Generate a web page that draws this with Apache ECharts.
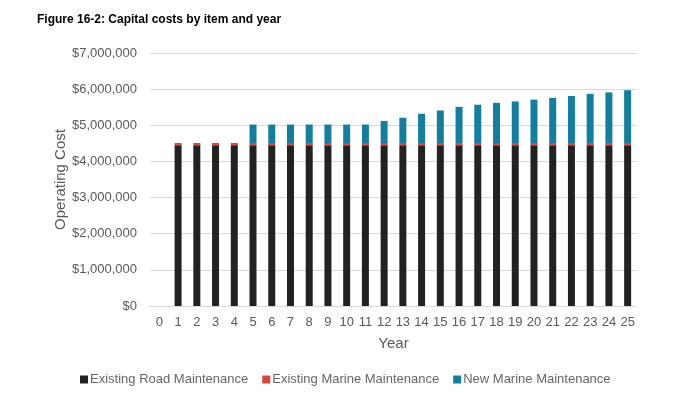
<!DOCTYPE html>
<html>
<head>
<meta charset="utf-8">
<script src="https://cdn.jsdelivr.net/npm/echarts@6/dist/echarts.min.js"></script>
<style>
html,body{margin:0;padding:0;background:#fff;}
#chart{width:700px;height:393px;}
</style>
</head>
<body>
<div id="chart"></div>
<script>
var years = ['0','1','2','3','4','5','6','7','8','9','10','11','12','13','14','15','16','17','18','19','20','21','22','23','24','25'];
var seriesNames = ['Existing Road Maintenance','Existing Marine Maintenance','New Marine Maintenance'];
var existingRoad = [null,4450000,4450000,4450000,4450000,4450000,4450000,4450000,4450000,4450000,4450000,4450000,4450000,4450000,4450000,4450000,4450000,4450000,4450000,4450000,4450000,4450000,4450000,4450000,4450000,4450000];
var existingMarine = [null,60000,60000,60000,60000,60000,60000,60000,60000,60000,60000,60000,60000,60000,60000,60000,60000,60000,60000,60000,60000,60000,60000,60000,60000,60000];
var newMarine = [null,0,0,0,0,510000,510000,510000,510000,510000,510000,510000,610000,700000,810000,900000,1000000,1060000,1110000,1150000,1200000,1250000,1300000,1360000,1400000,1460000];
var colors = ['#222222','#d9443f','#127fa0'];

var chart = echarts.init(document.getElementById('chart'));
var textColor = '#595959';
var font = '"Liberation Sans", Arial, sans-serif';
chart.setOption({
  animation: false,
  title: {
    text: 'Figure 16-2: Capital costs by item and year',
    left: 32, top: 9,
    textStyle: {fontFamily: font, fontSize: 12, fontWeight: 'bold', color: '#000'}
  },
  legend: {
    bottom: 2, left: 75,
    itemWidth: 8, itemHeight: 8, itemGap: 14,
    icon: 'rect',
    textStyle: {fontFamily: font, fontSize: 13, color: '#666666', padding: [0,0,0,-3]},
    data: seriesNames
  },
  grid: {left: 150, right: 63, top: 53, bottom: 87},
  xAxis: {
    type: 'category',
    data: years,
    name: 'Year',
    nameLocation: 'middle',
    nameGap: 30,
    nameTextStyle: {fontFamily: font, fontSize: 15, color: textColor},
    axisLine: {lineStyle: {color: '#d9d9d9'}},
    axisTick: {show: false},
    axisLabel: {fontFamily: font, fontSize: 13, color: textColor, margin: 10, interval: 0}
  },
  yAxis: {
    type: 'value',
    min: 0, max: 7000000, interval: 1000000,
    name: 'Operating Cost',
    nameLocation: 'middle',
    nameGap: 82,
    nameMoveOverlap: false,
    nameTextStyle: {fontFamily: font, fontSize: 15, color: textColor},
    axisLine: {show: false},
    axisTick: {show: false},
    splitLine: {lineStyle: {color: '#d9d9d9'}},
    axisLabel: {
      fontFamily: font, fontSize: 13, color: textColor, margin: 13,
      formatter: function(v){ return '$' + v.toLocaleString('en-US'); }
    }
  },
  series: [
    {name: seriesNames[0], type: 'bar', stack: 'a', data: existingRoad, barWidth: 7, itemStyle: {color: colors[0]}},
    {name: seriesNames[1], type: 'bar', stack: 'a', data: existingMarine, barWidth: 7, itemStyle: {color: colors[1]}},
    {name: seriesNames[2], type: 'bar', stack: 'a', data: newMarine, barWidth: 7, itemStyle: {color: colors[2]}}
  ]
});
</script>
</body>
</html>
